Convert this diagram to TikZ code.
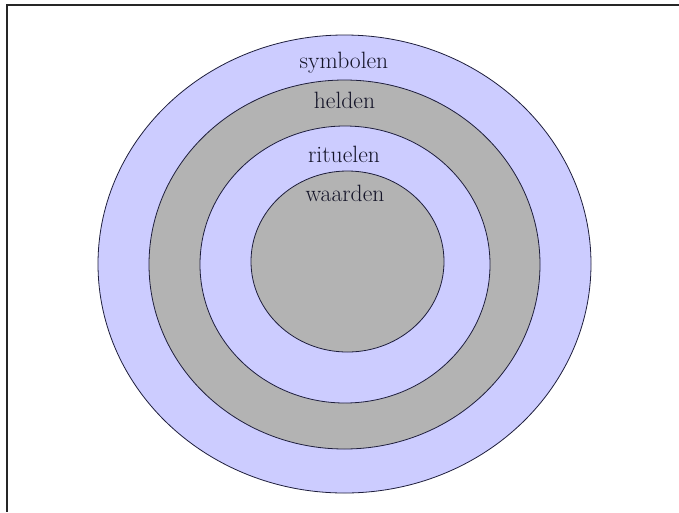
\documentclass[tikz,border=0pt]{standalone}
\usepackage{xcolor}
\usepackage{tikz}
\usetikzlibrary{shapes.geometric, positioning}
\definecolor{onionBlue}{HTML}{CCCCFF}
\definecolor{onionGrey}{HTML}{B3B3B3}
\definecolor{onionLine}{HTML}{1E1E3C}
\definecolor{onionText}{HTML}{141428}
\tikzset{
  onion/ring/.style   = {ellipse, draw=onionLine, line width=0.8pt, inner sep=0pt, outer sep=0pt},
  onion/blue/.style   = {onion/ring, fill=onionBlue},
  onion/grey/.style   = {onion/ring, fill=onionGrey},
  onion/label/.style  = {anchor=base, inner sep=0pt, text=onionText,
                         font=\fontsize{23.6}{28}\selectfont},
  onion/frame/.style  = {line width=1.6pt, draw=black!85},
}
\begin{document}
\begin{tikzpicture}[x=1pt, y=-1pt]
      \useasboundingbox (0,0) rectangle (679,512);
      % frame (top and left edge only)
      \coordinate (fc) at (7,5);
      \coordinate (fr) at (679,5);
      \coordinate (fb) at (7,512);
      \draw[onion/frame] (fr) -- (fc) -- (fb);
      % rings, outside in
      \node[onion/blue, minimum width=493pt, minimum height=458pt] (symbolen) at (344.5,264) {};
      \node[onion/grey, minimum width=391pt, minimum height=369pt] (helden)   at (344.5,264.5) {};
      \node[onion/blue, minimum width=290pt, minimum height=277pt] (rituelen) at (345,264.5) {};
      \node[onion/grey, minimum width=193pt, minimum height=181pt] (waarden)  at (347.5,261.5) {};
      % ring labels
      \node[onion/label] (tsymbolen) at (344,68.3)  {symbolen};
      \node[onion/label] (thelden)   at (344.5,108.5) {helden};
      \node[onion/label] (trituelen) at (344,162.7) {rituelen};
      \node[onion/label] (twaarden)  at (345,201)   {waarden};
    \end{tikzpicture}
\end{document}
